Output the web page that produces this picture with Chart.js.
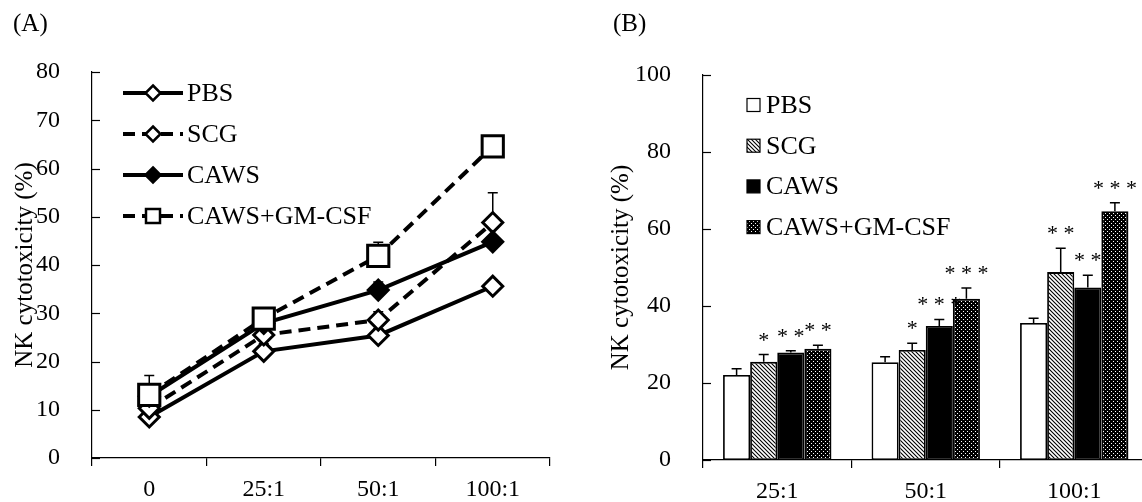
<!DOCTYPE html>
<html>
<head>
<meta charset="utf-8">
<script src="https://cdn.jsdelivr.net/npm/chart.js@4.4.0/dist/chart.umd.min.js"></script>
<style>
  html, body { margin: 0; padding: 0; background: #fff; overflow: hidden; }
  body { width: 1142px; height: 502px; position: relative; }
  #wrapA { position: absolute; left: 0; top: 0; }
  #wrapB { position: absolute; left: 580px; top: 0; }
</style>
</head>
<body>
<div id="wrapA"><canvas id="lineChart" width="570" height="502"></canvas></div>
<div id="wrapB"><canvas id="barChart" width="580" height="502"></canvas></div>
<script>
// effector:target ratios
const ratiosA = ['0', '25:1', '50:1', '100:1']
const ratiosB = ['25:1', '50:1', '100:1']
const groups = ['PBS', 'SCG', 'CAWS', 'CAWS+GM-CSF']

// NK cytotoxicity (%), mean per ratio
const pbsMean = [8.5, 22.1, 25.4, 35.6]
const scgMean = [10.3, 25.5, 28.6, 48.8]
const cawsMean = [12.8, 27.9, 34.8, 44.8]
const gmcsfMean = [13.1, 28.9, 41.9, 64.6]

// upper error (SD)
const pbsSD = [1.0, 1.6, 1.4, 1.2]
const scgSD = [1.2, 1.9, 1.7, 6.2]
const cawsSD = [1.0, 0.5, 1.7, 3.2]
const gmcsfSD = [4.0, 0.9, 2.8, 2.2]

// significance marks for panel B (25:1, 50:1, 100:1)
const pbsStars = ['', '', '']
const scgStars = ['*', '*', '**']
const cawsStars = ['**', '***', '**']
const gmcsfStars = ['**', '***', '***']

const FONT = 'Liberation Serif'
const INK = '#000'

function makePattern(kind) {
  const c = document.createElement('canvas')
  c.width = 4
  c.height = 4
  const g = c.getContext('2d')
  if (kind === 'hatch') {
    g.fillStyle = '#fff'
    g.fillRect(0, 0, 4, 4)
    g.strokeStyle = '#000'
    g.lineWidth = 1.1
    g.beginPath()
    g.moveTo(-1, -1); g.lineTo(5, 5)
    g.moveTo(-1, 3); g.lineTo(1, 5)
    g.moveTo(3, -1); g.lineTo(5, 1)
    g.stroke()
  } else {
    g.fillStyle = '#000'
    g.fillRect(0, 0, 4, 4)
    g.fillStyle = '#fff'
    g.fillRect(1, 1, 1, 1)
    g.fillRect(3, 3, 1, 1)
  }
  return g.createPattern(c, 'repeat')
}

function drawMarker(ctx, style, x, y, half, fill) {
  ctx.beginPath()
  if (style === 'rect') {
    ctx.rect(x - half, y - half, half * 2, half * 2)
  } else {
    ctx.moveTo(x, y - half)
    ctx.lineTo(x + half, y)
    ctx.lineTo(x, y + half)
    ctx.lineTo(x - half, y)
    ctx.closePath()
  }
  ctx.fillStyle = fill
  ctx.fill()
  ctx.stroke()
}

const inwardTicks = {
  id: 'inwardTicks',
  afterDraw(chart) {
    const ctx = chart.ctx
    const y = chart.scales.y
    const x0 = chart.chartArea.left
    ctx.save()
    ctx.strokeStyle = INK
    ctx.lineWidth = 1.2
    y.ticks.forEach((t) => {
      const py = Math.round(y.getPixelForValue(t.value)) + 0.5
      ctx.beginPath()
      ctx.moveTo(x0, py)
      ctx.lineTo(x0 + 8, py)
      ctx.stroke()
    })
    ctx.restore()
  }
}

function drawErrors(chart) {
  const ctx = chart.ctx
  const y = chart.scales.y
  ctx.save()
  ctx.strokeStyle = INK
  ctx.lineWidth = 1.5
  chart.data.datasets.forEach((ds, i) => {
    const meta = chart.getDatasetMeta(i)
    meta.data.forEach((el, j) => {
      const top = y.getPixelForValue(ds.data[j] + ds.errors[j])
      ctx.beginPath()
      ctx.moveTo(el.x, el.y)
      ctx.lineTo(el.x, top)
      ctx.moveTo(el.x - 5, top)
      ctx.lineTo(el.x + 5, top)
      ctx.stroke()
    })
  })
  ctx.restore()
}

const panelLabel = {
  id: 'panelLabel',
  afterDraw(chart, args, opts) {
    const ctx = chart.ctx
    ctx.save()
    ctx.fillStyle = INK
    ctx.font = '25px ' + FONT
    ctx.textBaseline = 'alphabetic'
    ctx.fillText(opts.text, opts.x, 31)
    ctx.restore()
  }
}

// ---------- panel A: lines ----------
const errorsBehind = { id: 'errorsBehind', beforeDatasetsDraw: (chart) => drawErrors(chart) }

const legendA = {
  id: 'legendA',
  afterDraw(chart) {
    const ctx = chart.ctx
    ctx.save()
    chart.data.datasets.forEach((ds, i) => {
      const yy = 93 + i * 41
      ctx.strokeStyle = INK
      ctx.lineWidth = 4
      ctx.setLineDash(ds.borderDash || [])
      ctx.beginPath()
      ctx.moveTo(123, yy)
      ctx.lineTo(183, yy)
      ctx.stroke()
      ctx.setLineDash([])
      ctx.lineWidth = 2.5
      const half = ds.pointStyle === 'rect' ? 7 : 7.5
      drawMarker(ctx, ds.pointStyle, 153, yy, half, ds.pointBackgroundColor)
      ctx.fillStyle = INK
      ctx.font = '26px ' + FONT
      ctx.textBaseline = 'middle'
      ctx.fillText(ds.label, 187, yy + 1)
    })
    ctx.restore()
  }
}

function lineSet(label, data, errors, dashed, style, fill, radius, order) {
  return {
    label: label,
    data: data,
    errors: errors,
    borderColor: INK,
    borderWidth: 4,
    borderDash: dashed ? [12, 7] : [],
    pointStyle: style,
    pointRadius: radius,
    pointBorderWidth: 3,
    pointBorderColor: INK,
    pointBackgroundColor: fill,
    tension: 0,
    order: order
  }
}

new Chart(document.getElementById('lineChart'), {
  type: 'line',
  data: {
    labels: ratiosA,
    datasets: [
      lineSet(groups[0], pbsMean, pbsSD, false, 'rectRot', '#fff', 10, 4),
      lineSet(groups[1], scgMean, scgSD, true, 'rectRot', '#fff', 10, 3),
      lineSet(groups[2], cawsMean, cawsSD, false, 'rectRot', '#000', 10, 2),
      lineSet(groups[3], gmcsfMean, gmcsfSD, true, 'rect', '#fff', 15, 1)
    ]
  },
  options: {
    responsive: false,
    animation: false,
    layout: { padding: { top: 72, right: 20, left: 0, bottom: 0 } },
    scales: {
      x: {
        offset: true,
        grid: { display: true, drawOnChartArea: false, drawTicks: true, tickLength: 8, offset: true, color: INK, lineWidth: 1.2 },
        border: { display: true, color: INK, width: 1.2 },
        ticks: { color: INK, font: { family: FONT, size: 24 }, padding: 9 },
        afterFit(s) { s.height = 44 }
      },
      y: {
        min: 0,
        max: 80,
        ticks: { stepSize: 10, color: INK, font: { family: FONT, size: 24 }, padding: 24 },
        grid: { display: false },
        border: { display: true, color: INK, width: 1.2 },
        title: { display: true, text: 'NK cytotoxicity (%)', color: INK, font: { family: FONT, size: 25 }, padding: { top: 10, bottom: 0 } },
        afterFit(s) { s.width = 92 }
      }
    },
    plugins: {
      legend: { display: false },
      tooltip: { enabled: false },
      panelLabel: { text: '(A)', x: 13 }
    }
  },
  plugins: [errorsBehind, inwardTicks, legendA, panelLabel]
})

// ---------- panel B: bars ----------
const hatch = makePattern('hatch')
const dots = makePattern('dots')
const fillsB = ['#fff', hatch, '#000', dots]

const errorsAndStars = {
  id: 'errorsAndStars',
  afterDatasetsDraw(chart) {
    drawErrors(chart)
    const ctx = chart.ctx
    const y = chart.scales.y
    ctx.save()
    ctx.fillStyle = INK
    ctx.font = '22px ' + FONT
    ctx.textAlign = 'center'
    ctx.textBaseline = 'alphabetic'
    chart.data.datasets.forEach((ds, i) => {
      chart.getDatasetMeta(i).data.forEach((el, j) => {
        if (!ds.stars[j]) return
        const top = y.getPixelForValue(ds.data[j] + ds.errors[j])
        ctx.fillText(ds.stars[j].split('').join(' '), el.x, top - 8)
      })
    })
    ctx.restore()
  }
}

const legendB = {
  id: 'legendB',
  afterDraw(chart) {
    const ctx = chart.ctx
    ctx.save()
    chart.data.datasets.forEach((ds, i) => {
      const yy = 105 + i * 40.7
      ctx.fillStyle = ds.backgroundColor
      ctx.fillRect(167, yy - 6.5, 13, 13)
      ctx.strokeStyle = INK
      ctx.lineWidth = 1.2
      ctx.strokeRect(167, yy - 6.5, 13, 13)
      ctx.fillStyle = INK
      ctx.font = '26px ' + FONT
      ctx.textBaseline = 'middle'
      ctx.fillText(ds.label, 186, yy + 1)
    })
    ctx.restore()
  }
}

function barSet(i, mean, sd, stars) {
  return {
    label: groups[i],
    data: mean.slice(1),
    errors: sd.slice(1),
    stars: stars,
    backgroundColor: fillsB[i],
    borderColor: INK,
    borderWidth: 1.8,
    borderSkipped: false
  }
}

new Chart(document.getElementById('barChart'), {
  type: 'bar',
  data: {
    labels: ratiosB,
    datasets: [
      barSet(0, pbsMean, pbsSD, pbsStars),
      barSet(1, scgMean, scgSD, scgStars),
      barSet(2, cawsMean, cawsSD, cawsStars),
      barSet(3, gmcsfMean, gmcsfSD, gmcsfStars)
    ]
  },
  options: {
    responsive: false,
    animation: false,
    layout: { padding: { top: 75, right: 11.5, left: 0, bottom: 0 } },
    datasets: { bar: { categoryPercentage: 0.73, barPercentage: 1 } },
    scales: {
      x: {
        offset: true,
        grid: { display: true, drawOnChartArea: false, drawTicks: true, tickLength: 8, offset: true, color: INK, lineWidth: 1.2 },
        border: { display: true, color: INK, width: 1.2 },
        ticks: { color: INK, font: { family: FONT, size: 24 }, padding: 9 },
        afterFit(s) { s.height = 42 }
      },
      y: {
        min: 0,
        max: 100,
        ticks: { stepSize: 20, color: INK, font: { family: FONT, size: 24 }, padding: 24 },
        grid: { display: false },
        border: { display: true, color: INK, width: 1.2 },
        title: { display: true, text: 'NK cytotoxicity (%)', color: INK, font: { family: FONT, size: 25 }, padding: { top: 26, bottom: 0 } },
        afterFit(s) { s.width = 123 }
      }
    },
    plugins: {
      legend: { display: false },
      tooltip: { enabled: false },
      panelLabel: { text: '(B)', x: 33 }
    }
  },
  plugins: [errorsAndStars, inwardTicks, legendB, panelLabel]
})
</script>
</body>
</html>
